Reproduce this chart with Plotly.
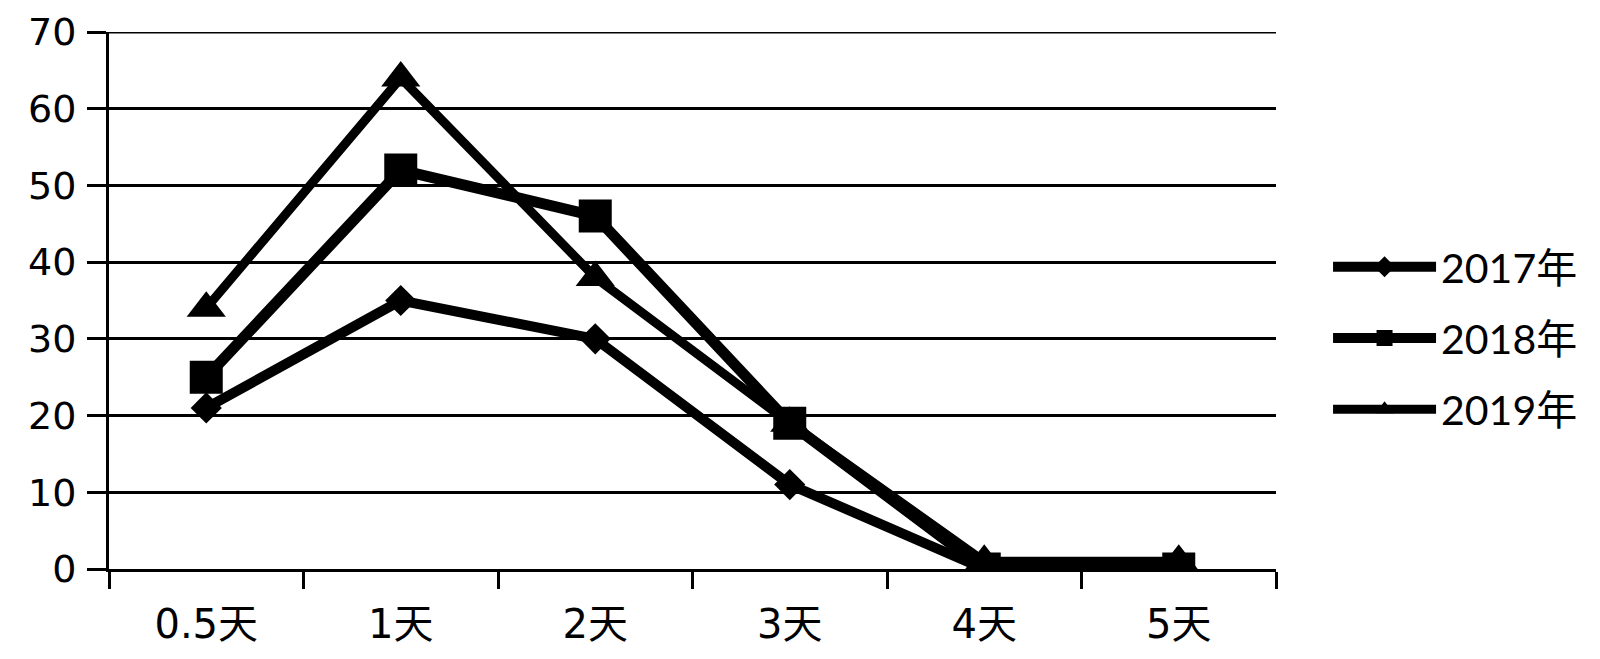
import plotly.graph_objects as go

categories = ["0.5天", "1天", "2天", "3天", "4天", "5天"]
series_names = ["2017年", "2018年", "2019年"]
v2017 = [21, 35, 30, 11, 0, 0]
v2018 = [25, 52, 46, 19, 0, 0]
v2019 = [34, 64, 38, 19, 1, 1]
y_ticks = [0, 10, 20, 30, 40, 50, 60, 70]

series_values = [v2017, v2018, v2019]
symbols = ["diamond", "square", "triangle-up"]
msizes = [24, 33, 34]
lwidths = [10, 11, 9]

fig = go.Figure()
for name, vals, sym, ms, lw in zip(series_names, series_values, symbols, msizes, lwidths):
    fig.add_trace(go.Scatter(
        x=categories, y=vals, name=name, mode="lines+markers",
        legendgroup=name,
        line=dict(color="black", width=lw),
        marker=dict(symbol=sym, size=ms, color="black"),
    ))

# top gridline (plotly drops gridlines lying exactly on the plot edge)
fig.add_shape(type="line", xref="paper", yref="y", x0=0, x1=1,
              y0=y_ticks[-1], y1=y_ticks[-1],
              line=dict(color="black", width=3), layer="below")

fig.update_layout(
    width=1600, height=659,
    margin=dict(l=101, r=332, t=24, b=98, autoexpand=False),
    paper_bgcolor="white", plot_bgcolor="white",
    font=dict(family="DejaVu Sans, Noto Sans CJK SC", color="black", size=30),
    showlegend=True,
    legend=dict(
        x=1.0446, y=0.430, xanchor="left", yanchor="middle",
        font=dict(family="Lato, Noto Sans CJK SC", size=41, color="black"),
        tracegroupgap=15, itemwidth=103,
        bgcolor="rgba(0,0,0,0)",
    ),
)
fig.update_xaxes(
    type="category", categoryorder="array", categoryarray=categories,
    range=[-0.5, len(categories) - 0.5],
    showline=True, linecolor="black", linewidth=3,
    showgrid=False, zeroline=False, automargin=False,
    ticks="outside", tickson="boundaries", ticklen=17, tickwidth=3, tickcolor="black",
    ticklabelstandoff=18,
    tickfont=dict(family="DejaVu Sans, Noto Sans CJK SC", size=40, color="black"),
)
fig.update_yaxes(
    range=[0, 70], tickvals=y_ticks,
    showline=True, linecolor="black", linewidth=3,
    showgrid=True, gridcolor="black", gridwidth=3,
    zeroline=False, automargin=False,
    ticks="outside", ticklen=19, tickwidth=3, tickcolor="black",
    ticklabelstandoff=3,
    tickfont=dict(family="DejaVu Sans", size=38, color="black"),
)

fig.write_html("out.html")
